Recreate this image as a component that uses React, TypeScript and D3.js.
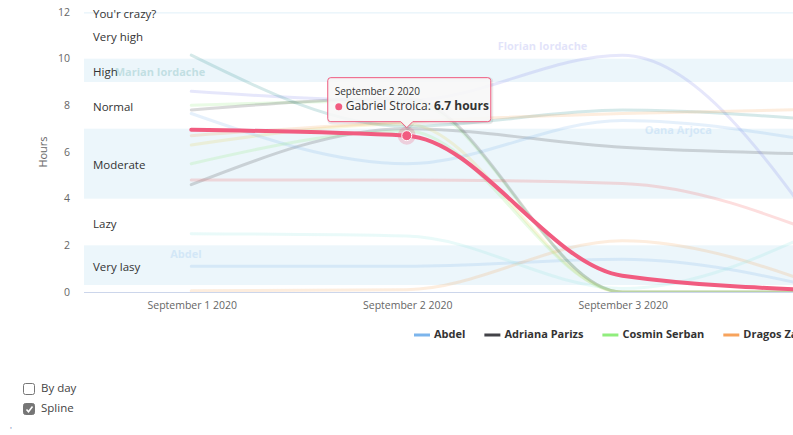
import { useEffect, useRef } from "react";
import * as d3 from "d3";

// days on the x axis (one point per day)
const days = [
  new Date(2020, 8, 1),
  new Date(2020, 8, 2),
  new Date(2020, 8, 3),
  new Date(2020, 8, 4),
];

// hours per day, per person
const abdel = [1.1, 1.1, 1.4, 0];
const adrianaParizs = [4.6, 7.0, 6.2, 5.9];
const cosminSerban = [8.0, 8.2, 0, 0];
const dragosZamfir = [0.05, 0.1, 2.2, 0];
const florianIordache = [8.6, 8.2, 10.15, 1.5];
const gabrielStroica = [6.95, 6.7, 0.7, 0.05];
const ionutPopa = [6.3, 7.2, 0, 0];
const marianIordache = [10.15, 7.1, 7.8, 7.3];
const mihaiDobre = [4.8, 4.8, 4.65, 2.2];
const mirceaNistor = [2.5, 2.4, 0.15, 3.0];
const oanaArjoca = [7.65, 5.5, 7.35, 6.3];
const raduEnache = [7.8, 8.3, 0, 0];
const sorinMatei = [5.5, 6.9, 0, 0];
const vladStan = [6.7, 7.3, 7.65, 7.85];

const seriesNames = [
  "Abdel",
  "Adriana Parizs",
  "Cosmin Serban",
  "Dragos Zamfir",
  "Florian Iordache",
  "Gabriel Stroica",
  "Ionut Popa",
  "Marian Iordache",
  "Mihai Dobre",
  "Mircea Nistor",
  "Oana Arjoca",
  "Radu Enache",
  "Sorin Matei",
  "Vlad Stan",
];
const seriesValues = [
  abdel,
  adrianaParizs,
  cosminSerban,
  dragosZamfir,
  florianIordache,
  gabrielStroica,
  ionutPopa,
  marianIordache,
  mihaiDobre,
  mirceaNistor,
  oanaArjoca,
  raduEnache,
  sorinMatei,
  vladStan,
];

const yTicks = [0, 2, 4, 6, 8, 10, 12];

// plot bands: shaded ones and the labelled ranges
const bandFrom = [0.3, 4, 9, 11.93];
const bandTo = [2, 7, 10, 12.07];
const rangeLabels = ["Very lasy", "Lazy", "Moderate", "Normal", "High", "Very high", "You'r crazy?"];
const rangeMid = [1.15, 3, 5.5, 8, 9.5, 11, 12];

// series-label anchors (day offset from Sept 1, hours)
const labelSeries = ["Marian Iordache", "Florian Iordache", "Oana Arjoca", "Abdel"];
const labelDay = [-0.145, 1.63, 2.26, -0.025];
const labelHours = [9.4, 10.5, 6.9, 1.6];

const hoverSeries = "Gabriel Stroica";
const hoverIndex = 1;

const palette = [
  "#7cb5ec", "#434348", "#90ed7d", "#f7a35c", "#8085e9",
  "#f15c80", "#e4d354", "#2b908f", "#f45b5b", "#91e8e1",
];

const FONT = "'Open Sans', sans-serif";

export default function App() {
  const svgRef = useRef<SVGSVGElement>(null);
  const width = 793;
  const height = 435;

  useEffect(() => {
    if (!svgRef.current) return;
    const svg = d3.select(svgRef.current);
    svg.selectAll("*").remove();

    const plot = { left: 84, top: 12, bottom: 292, right: 946 };
    const dayMs = 24 * 3600 * 1000;

    const x = d3
      .scaleTime()
      .domain([new Date(+days[0] - dayMs / 2), new Date(+days[days.length - 1] + dayMs / 2)])
      .range([plot.left - 0.5, plot.right - 0.5]);
    const y = d3.scaleLinear().domain([0, 12]).range([plot.bottom, plot.top]);

    svg
      .append("defs")
      .append("clipPath")
      .attr("id", "plotclip")
      .append("rect")
      .attr("x", plot.left)
      .attr("y", plot.top)
      .attr("width", plot.right - plot.left)
      .attr("height", plot.bottom - plot.top);

    const g = svg.append("g").attr("clip-path", "url(#plotclip)");

    // plot bands
    g.selectAll(".band")
      .data(bandFrom.map((f, i) => [f, bandTo[i]]))
      .enter()
      .append("rect")
      .attr("x", plot.left)
      .attr("width", plot.right - plot.left)
      .attr("y", (d) => y(d[1]))
      .attr("height", (d) => y(d[0]) - y(d[1]))
      .attr("fill", "rgba(68,170,213,0.1)");

    // band labels
    svg
      .selectAll(".rlabel")
      .data(rangeLabels)
      .enter()
      .append("text")
      .attr("x", plot.left + 9)
      .attr("y", (_, i) => y(rangeMid[i]) + 2.5)
      .attr("dominant-baseline", "middle")
      .attr("font-family", FONT)
      .attr("font-size", 11.5)
      .attr("fill", "#333")
      .text((d) => d);

    // x axis line
    svg
      .append("line")
      .attr("x1", plot.left)
      .attr("x2", width)
      .attr("y1", plot.bottom + 0.5)
      .attr("y2", plot.bottom + 0.5)
      .attr("stroke", "#ccd6eb");

    const fmt = d3.timeFormat("%B %-d %Y");
    svg
      .selectAll(".xlabel")
      .data(days)
      .enter()
      .append("text")
      .attr("x", (d) => x(d) + 1)
      .attr("y", plot.bottom + 14.5)
      .attr("dominant-baseline", "middle")
      .attr("text-anchor", "middle")
      .attr("font-family", FONT)
      .attr("font-size", 10.5)
      .attr("fill", "#666")
      .text((d) => fmt(d));

    // y labels
    svg
      .selectAll(".ylabel")
      .data(yTicks)
      .enter()
      .append("text")
      .attr("x", 70)
      .attr("y", (d) => y(d) + 1)
      .attr("dominant-baseline", "middle")
      .attr("text-anchor", "end")
      .attr("font-family", FONT)
      .attr("font-size", 10.5)
      .attr("fill", "#666")
      .text((d) => d);

    svg
      .append("text")
      .attr("transform", `translate(44,${(plot.top + plot.bottom) / 2}) rotate(-90)`)
      .attr("text-anchor", "middle")
      .attr("dominant-baseline", "middle")
      .attr("font-family", FONT)
      .attr("font-size", 11)
      .attr("fill", "#666")
      .text("Hours");

    // lines
    const line = d3
      .line<number>()
      .x((_, i) => x(days[i]))
      .y((d) => y(d))
      .curve(d3.curveMonotoneX);

    const order = seriesNames.map((_, i) => i).filter((i) => seriesNames[i] !== hoverSeries);
    const hi = seriesNames.indexOf(hoverSeries);

    order.forEach((i) => {
      g.append("path")
        .attr("d", line(seriesValues[i]))
        .attr("fill", "none")
        .attr("stroke", palette[i % palette.length])
        .attr("stroke-width", 3)
        .attr("stroke-linecap", "round")
        .attr("opacity", 0.2);
    });

    // series labels (faded)
    labelSeries.forEach((name, k) => {
      const i = seriesNames.indexOf(name);
      svg
        .append("text")
        .attr("x", x(new Date(+days[0] + labelDay[k] * dayMs)))
        .attr("y", y(labelHours[k]))
        .attr("text-anchor", "middle")
        .attr("dominant-baseline", "middle")
        .attr("font-family", FONT)
        .attr("font-size", 11)
        .attr("font-weight", "bold")
        .attr("fill", palette[i % palette.length])
        .attr("opacity", 0.22)
        .text(name);
    });

    const hiColor = palette[hi % palette.length];
    g.append("path")
      .attr("d", line(seriesValues[hi]))
      .attr("fill", "none")
      .attr("stroke", hiColor)
      .attr("stroke-width", 4)
      .attr("stroke-linecap", "round")
      .attr("stroke-linejoin", "round");

    // hovered point
    const px = x(days[hoverIndex]);
    const py = y(seriesValues[hi][hoverIndex]);
    svg.append("circle").attr("cx", px).attr("cy", py).attr("r", 9).attr("fill", hiColor).attr("opacity", 0.25);
    svg
      .append("circle")
      .attr("cx", px)
      .attr("cy", py)
      .attr("r", 5)
      .attr("fill", hiColor)
      .attr("stroke", "#fff")
      .attr("stroke-width", 1);

    // tooltip
    const tw = 163;
    const th = 44;
    const tx = px - 79;
    const ty = py - 58;
    const tip = svg.append("g");
    const tipPath = `M${tx + 3},${ty} H${tx + tw - 3} Q${tx + tw},${ty} ${tx + tw},${ty + 3} V${ty + th - 3} Q${tx + tw},${ty + th} ${tx + tw - 3},${ty + th} H${px + 6} L${px},${ty + th + 6} L${px - 6},${ty + th} H${tx + 3} Q${tx},${ty + th} ${tx},${ty + th - 3} V${ty + 3} Q${tx},${ty} ${tx + 3},${ty} Z`;
    tip
      .append("path")
      .attr("d", tipPath)
      .attr("transform", "translate(1,1)")
      .attr("fill", "none")
      .attr("stroke", "rgba(0,0,0,0.08)")
      .attr("stroke-width", 3);
    tip
      .append("path")
      .attr("d", tipPath)
      .attr("fill", "rgba(247,247,247,0.9)")
      .attr("stroke", hiColor)
      .attr("stroke-width", 1);
    tip
      .append("text")
      .attr("x", tx + 7)
      .attr("y", ty + 15)
      .attr("dominant-baseline", "middle")
      .attr("font-family", FONT)
      .attr("font-size", 10)
      .attr("fill", "#333")
      .text(fmt(days[hoverIndex]));
    tip.append("circle").attr("cx", tx + 11).attr("cy", ty + 29).attr("r", 3.5).attr("fill", hiColor);
    const t2 = tip
      .append("text")
      .attr("x", tx + 18)
      .attr("y", ty + 29)
      .attr("dominant-baseline", "middle")
      .attr("font-family", FONT)
      .attr("font-size", 12)
      .attr("fill", "#333");
    t2.append("tspan").text(`${hoverSeries}: `);
    t2.append("tspan").attr("font-weight", "bold").text(`${seriesValues[hi][hoverIndex]} hours`);

    // legend
    let lx = 414;
    const ly = 335;
    seriesNames.forEach((name, i) => {
      const item = svg.append("g");
      item
        .append("line")
        .attr("x1", lx)
        .attr("x2", lx + 16)
        .attr("y1", ly)
        .attr("y2", ly)
        .attr("stroke", palette[i % palette.length])
        .attr("stroke-width", 3);
      const txt = item
        .append("text")
        .attr("x", lx + 20)
        .attr("y", ly)
        .attr("dominant-baseline", "middle")
        .attr("font-family", FONT)
        .attr("font-size", 11)
        .attr("font-weight", "bold")
        .attr("fill", "#333")
        .text(name);
      const w = (txt.node() as SVGTextElement).getComputedTextLength();
      lx += 20 + w + 19;
    });

    // option checkboxes
    const opts = ["By day", "Spline"];
    const checked = [false, true];
    opts.forEach((o, i) => {
      const cy = 389 + i * 20;
      svg
        .append("rect")
        .attr("x", 23.5)
        .attr("y", cy - 5.5)
        .attr("width", 11)
        .attr("height", 11)
        .attr("rx", 2)
        .attr("fill", checked[i] ? "#767676" : "#fff")
        .attr("stroke", "#767676")
        .attr("stroke-width", 1);
      if (checked[i]) {
        svg
          .append("path")
          .attr("d", `M26.5,${cy + 0.5} L28.5,${cy + 2.8} L32.5,${cy - 2.5}`)
          .attr("fill", "none")
          .attr("stroke", "#fff")
          .attr("stroke-width", 1.6);
      }
      svg
        .append("text")
        .attr("x", 41)
        .attr("y", cy)
        .attr("dominant-baseline", "middle")
        .attr("font-family", FONT)
        .attr("font-size", 11.5)
        .attr("fill", "#444")
        .text(o);
    });

    svg
      .append("text")
      .attr("x", 10)
      .attr("y", 432)
      .attr("font-family", FONT)
      .attr("font-size", 8)
      .attr("fill", "#5a6fb0")
      .text("'");
  }, []);

  return (
    <div style={{ position: "absolute", left: 0, top: 0, width, height, overflow: "hidden" }}>
      <svg ref={svgRef} width={width} height={height} style={{ display: "block" }} />
    </div>
  );
}
